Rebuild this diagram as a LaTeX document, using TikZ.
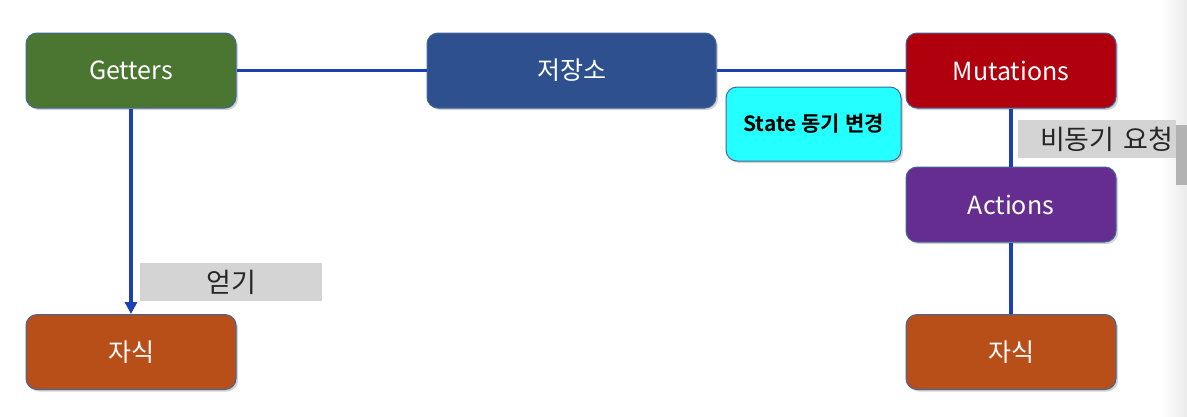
\documentclass[tikz,border=0pt]{standalone}
\usepackage{fontspec}
\setmainfont{Noto Sans CJK KR}
\newfontfamily\krbold{Noto Sans CJK KR Bold}
\usetikzlibrary{shadows,arrows.meta}
\definecolor{linkblue}{HTML}{1B3FB4}
\definecolor{edgeblue}{HTML}{41679A}
\definecolor{gGreen}{HTML}{4B7632}
\definecolor{gBlue}{HTML}{2E508E}
\definecolor{gRed}{HTML}{B0000E}
\definecolor{gPurple}{HTML}{652D90}
\definecolor{gOrange}{HTML}{B84F18}
\definecolor{gCyan}{HTML}{24FFFF}
\definecolor{gGrey}{HTML}{D4D4D4}
\tikzset{
  x=1pt, y=-1pt,
  box/.style={draw=edgeblue, line width=1pt, rounded corners=11pt, minimum width=210pt, minimum height=75pt, inner sep=0pt, text=white, font=\fontsize{25}{28}\selectfont, drop shadow={shadow xshift=2pt, shadow yshift=-2pt, opacity=0.35}},
  tag/.style={fill=gGrey, inner sep=0pt, font=\fontsize{27}{30}\selectfont, text=black!85},
  link/.style={draw=linkblue, line width=3.5pt},
}
\begin{document}
\begin{tikzpicture}
\useasboundingbox (0,0) rectangle (1187,416);
% right edge artifact
\shade[left color=white, right color=black!8] (1160,0) rectangle (1187,416);
\fill[black!30] (1176,125) rectangle (1187,185);
% nodes
\node[box, fill=gGreen] (getters) at (131,70.5) {Getters};
\node[box, fill=gBlue, minimum width=289pt] (store) at (571.5,70.5) {저장소};
\node[box, fill=gRed] (mut) at (1011,70.5) {Mutations};
\node[box, fill=gPurple] (act) at (1011,204.5) {Actions};
\node[box, fill=gOrange] (childL) at (131,352) {자식};
\node[box, fill=gOrange] (childR) at (1011,352) {자식};
\node[box, fill=gCyan, minimum width=175pt, minimum height=74pt, text=black, font=\krbold\fontsize{21}{24}\selectfont] (sync) at (813.5,124) {State 동기 변경};
% connectors
\draw[link] (getters.east) -- (store.west);
\draw[link] (store.east) -- (mut.west);
\draw[link, -{Triangle[length=12pt,width=12pt]}] (getters.south) -- (childL.north);
\draw[link] (mut.south) -- (act.north);
\draw[link] (act.south) -- (childR.north);
% labels
\node[tag, minimum width=182pt, minimum height=38pt] (get) at (231,282) {얻기};
\node[tag, minimum width=158pt, minimum height=38pt, anchor=west, text width=152pt, align=right] (req) at (1018,139) {비동기 요청};
\end{tikzpicture}
\end{document}
